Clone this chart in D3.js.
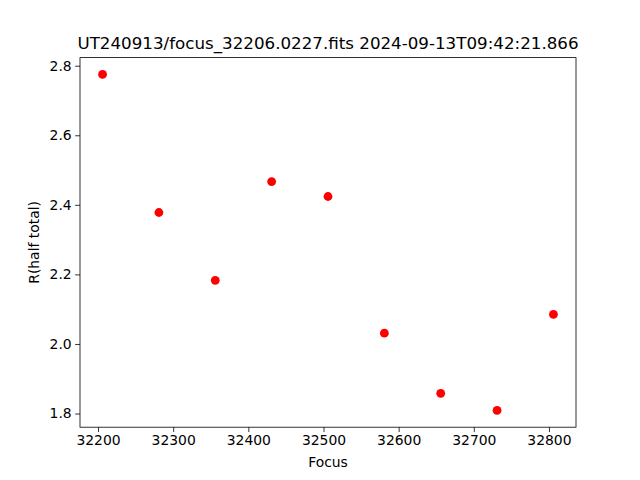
<!DOCTYPE html>
<html><head><meta charset="utf-8">
<script src="https://cdn.jsdelivr.net/npm/d3@7"></script>
<style>body{margin:0;background:#fff;}svg{display:block;font-family:"DejaVu Sans",sans-serif;}</style>
</head><body>
<script>
const focus = [32206, 32281, 32356, 32431, 32506, 32581, 32656, 32731, 32806];
const rHalf = [2.775, 2.378, 2.183, 2.467, 2.424, 2.031, 1.858, 1.809, 2.085];
const xTicks = [32200, 32300, 32400, 32500, 32600, 32700, 32800];
const yTicks = [1.8, 2.0, 2.2, 2.4, 2.6, 2.8];
const titleText = "UT240913/focus_32206.0227.fits 2024-09-13T09:42:21.866";

const W = 640, H = 480;
const L = 80, R = 576, T = 57.6, B = 427.2;
const svg = d3.select("body").append("svg").attr("width", W).attr("height", H);

const xmin = d3.min(focus), xmax = d3.max(focus), xm = (xmax - xmin) * 0.05;
const ymin = d3.min(rHalf), ymax = d3.max(rHalf), ym = (ymax - ymin) * 0.05;
const x = d3.scaleLinear().domain([xmin - xm, xmax + xm]).range([L, R]);
const y = d3.scaleLinear().domain([ymin - ym, ymax + ym]).range([B, T]);

const xAxis = svg.append("g").attr("transform", `translate(0,${B})`)
  .call(d3.axisBottom(x).tickValues(xTicks).tickFormat(d3.format("d")).tickSize(4.86).tickPadding(3.5));
const yAxis = svg.append("g").attr("transform", `translate(${L},0)`)
  .call(d3.axisLeft(y).tickValues(yTicks).tickFormat(d3.format(".1f")).tickSize(4.86).tickPadding(3.5));
[xAxis, yAxis].forEach(g => {
  g.select(".domain").remove();
  g.selectAll("line").attr("stroke", "#000").attr("stroke-width", 0.8);
  g.selectAll("text").attr("font-family", "DejaVu Sans").attr("font-size", "13.9px").attr("fill", "#000");
});

svg.append("rect").attr("x", L).attr("y", T).attr("width", R - L).attr("height", B - T)
  .attr("fill", "none").attr("stroke", "#000").attr("stroke-width", 0.8);

svg.append("g").selectAll("circle").data(focus.map((f, i) => [f, rHalf[i]])).join("circle")
  .attr("cx", d => x(d[0])).attr("cy", d => y(d[1])).attr("r", 4.4).attr("fill", "#ff0000");

svg.append("text").attr("x", (L + R) / 2).attr("y", T - 8.3).attr("text-anchor", "middle")
  .attr("font-size", "16.7px").attr("fill", "#000").text(titleText);
svg.append("text").attr("x", (L + R) / 2).attr("y", 467).attr("text-anchor", "middle")
  .attr("font-size", "13.9px").attr("fill", "#000").text("Focus");
svg.append("text").attr("transform", `translate(39,${(T + B) / 2}) rotate(-90)`).attr("text-anchor", "middle")
  .attr("font-size", "13.9px").attr("fill", "#000").text("R(half total)");
</script>
</body></html>
